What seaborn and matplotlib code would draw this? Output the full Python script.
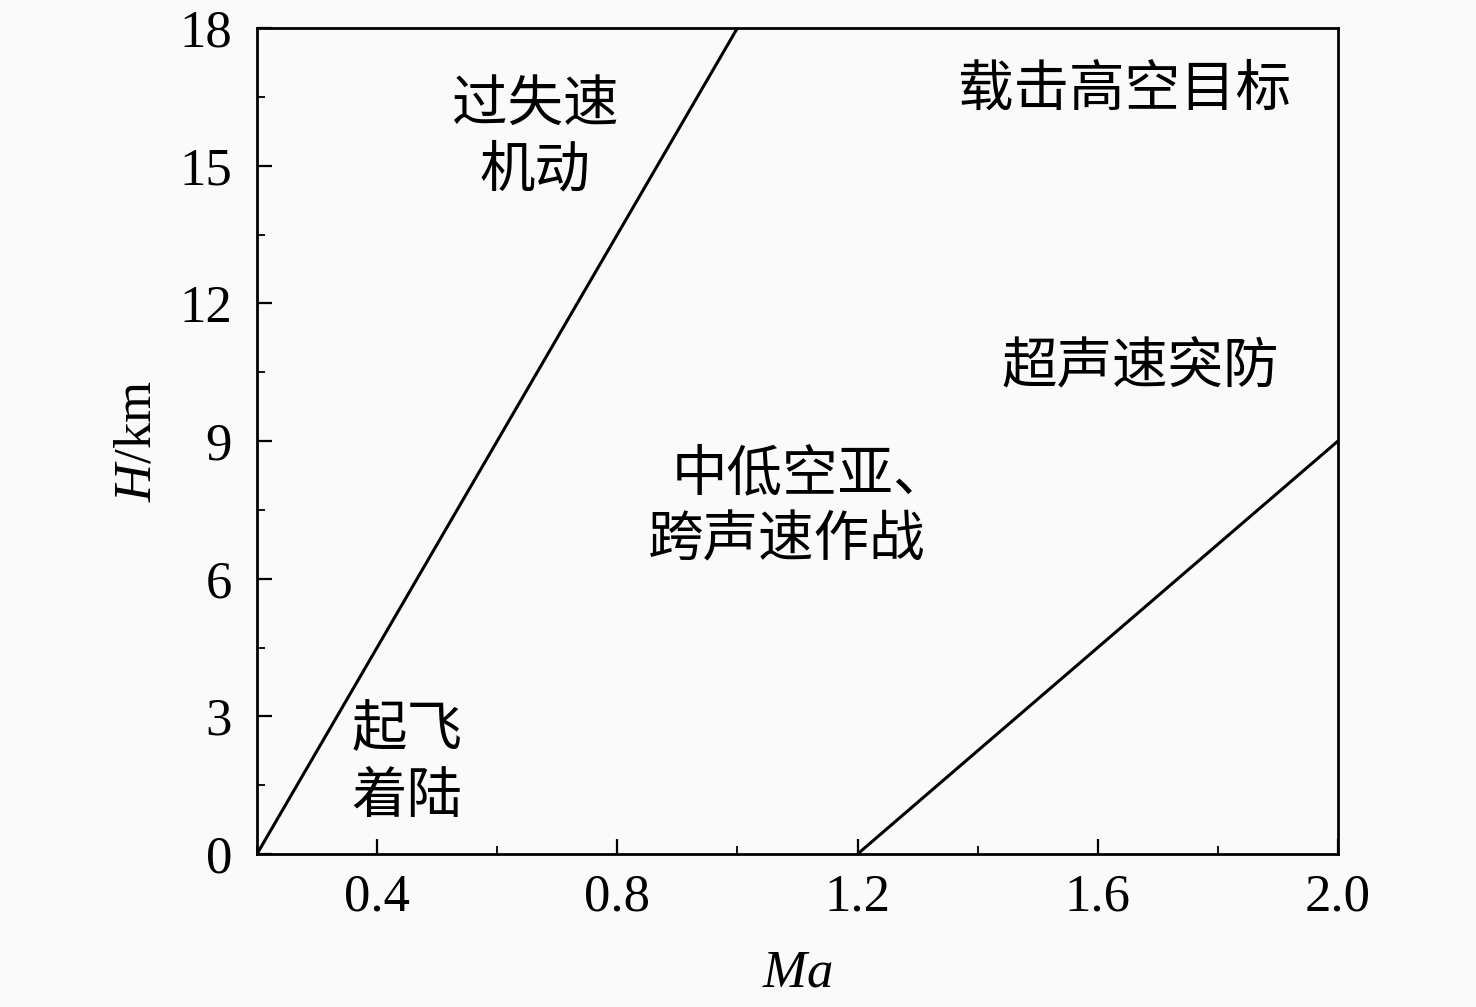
import matplotlib
matplotlib.use("Agg")
import matplotlib.pyplot as plt
import seaborn as sns
from matplotlib.ticker import MultipleLocator

# boundary lines (Ma, H/km)
low_ma = [0.2, 1.0]
low_h = [0, 18]
high_ma = [1.2, 2.0]
high_h = [0, 9]

# region labels: text, Ma, H, alignment
region_text = ["过失速", "机动", "载击高空目标", "超声速突防", "中低空亚、", "跨声速作战", "起飞", "着陆"]
region_ma = [0.663, 0.663, 1.645, 1.67, 0.891, 0.851, 0.358, 0.358]
region_h = [16.32, 14.9, 16.65, 10.59, 8.26, 6.84, 2.70, 1.24]
region_ha = ["center", "center", "center", "center", "left", "left", "left", "left"]

sns.set_style("ticks")
plt.rcParams['font.family'] = ['Liberation Serif', 'Noto Sans CJK SC']
plt.rcParams['mathtext.fontset'] = 'custom'
plt.rcParams['mathtext.it'] = 'Liberation Serif:italic'
plt.rcParams['mathtext.rm'] = 'Liberation Serif'
plt.rcParams['text.color'] = 'black'
plt.rcParams['axes.labelcolor'] = 'black'
plt.rcParams['xtick.color'] = 'black'
plt.rcParams['ytick.color'] = 'black'

fig = plt.figure(figsize=(14.76, 10.07), dpi=100, facecolor="#fafafa")
ax = fig.add_axes([0.1741, 0.1519, 0.7324, 0.8203])
ax.set_facecolor("#fafafa")

sns.lineplot(x=low_ma, y=low_h, ax=ax, color="black", linewidth=2.2)
sns.lineplot(x=high_ma, y=high_h, ax=ax, color="black", linewidth=2.2)

for t, m, h, ha in zip(region_text, region_ma, region_h, region_ha):
    ax.text(m, h, t, ha=ha, va="center", fontsize=40, color="black",
            family=['Noto Sans CJK SC', 'DejaVu Sans'])

ax.set_xlim(0.2, 2.0)
ax.set_ylim(0, 18)
ax.xaxis.set_major_locator(MultipleLocator(0.4))
ax.xaxis.set_minor_locator(MultipleLocator(0.2))
ax.yaxis.set_major_locator(MultipleLocator(3))
ax.yaxis.set_minor_locator(MultipleLocator(1.5))
ax.set_xticks([0.4, 0.8, 1.2, 1.6, 2.0])
ax.set_xticklabels(["0.4", "0.8", "1.2", "1.6", "2.0"])
ax.tick_params(which="major", direction="in", length=11, width=1.6, labelsize=38, pad=14)
ax.tick_params(axis="y", which="major", pad=18)
ax.tick_params(which="minor", direction="in", length=6, width=1.3)
for s in ax.spines.values():
    s.set_linewidth(2.0)
    s.set_color("black")

ax.set_xlabel(r"$\it{Ma}$", fontsize=38, labelpad=20)
ax.set_ylabel(r"$\it{H}$/km", fontsize=38, labelpad=13)

fig.savefig("out.png", dpi=100, facecolor=fig.get_facecolor())
